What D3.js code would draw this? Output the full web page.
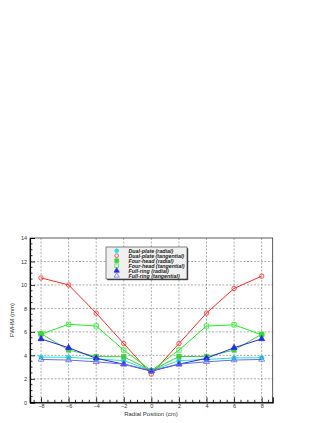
<!DOCTYPE html>
<html>
<head>
<meta charset="utf-8">
<script src="https://cdn.jsdelivr.net/npm/d3@7"></script>
<style>
  body { margin: 0; background: #fff; }
  svg { display: block; }
  text { font-family: "Liberation Sans", Arial, sans-serif; }
</style>
</head>
<body>
<div id="chart"></div>
<script>
var positions = [-8, -6, -4, -2, 0, 2, 4, 6, 8];

var dualPlateRadial = [3.85, 3.83, 3.7, 3.55, 2.7, 3.55, 3.65, 3.78, 3.8];
var dualPlateTangential = [10.6, 10.0, 7.6, 5.0, 2.4, 5.0, 7.6, 9.7, 10.75];
var fourHeadRadial = [5.85, 4.45, 3.9, 3.88, 2.7, 3.9, 3.9, 4.45, 5.8];
var fourHeadTangential = [5.8, 6.65, 6.5, 4.45, 2.7, 4.45, 6.5, 6.6, 5.75];
var fullRingRadial = [5.4, 4.65, 3.75, 3.25, 2.65, 3.25, 3.75, 4.65, 5.4];
var fullRingTangential = [3.65, 3.6, 3.45, 3.25, 2.7, 3.25, 3.45, 3.6, 3.65];

var seriesNames = [
  "Dual-plate (radial)", "Dual-plate (tangential)",
  "Four-head (radial)", "Four-head (tangential)",
  "Full-ring (radial)", "Full-ring (tangential)"
];
var xTicks = [-8, -6, -4, -2, 0, 2, 4, 6, 8];
var yTicks = [0, 2, 4, 6, 8, 10, 12, 14];

// draw order: bottom-most first, as in the ROOT canvas
var series = [
  { name: seriesNames[0], values: dualPlateRadial, color: "#22dede", shape: "circle", filled: true },
  { name: seriesNames[1], values: dualPlateTangential, color: "#ff2a2a", shape: "circle", filled: false },
  { name: seriesNames[2], values: fourHeadRadial, color: "#44cc44", shape: "square", filled: true },
  { name: seriesNames[3], values: fourHeadTangential, color: "#22ee22", shape: "square", filled: false },
  { name: seriesNames[4], values: fullRingRadial, color: "#2828e8", shape: "triangle", filled: true },
  { name: seriesNames[5], values: fullRingTangential, color: "#6a6ae6", shape: "triangle", filled: false }
];

var width = 327, height = 423;
var svg = d3.select("#chart").append("svg")
  .attr("width", width).attr("height", height);

var x = d3.scaleLinear().domain([-8.8, 8.8]).range([30, 272.7]);
var y = d3.scaleLinear().domain([0, 14]).range([402.3, 238]);

var frameL = x.range()[0], frameR = x.range()[1];
var frameT = y.range()[1], frameB = y.range()[0];

// grid
var grid = svg.append("g");
grid.selectAll("line.gx").data(xTicks).enter().append("line")
  .attr("x1", function(d) { return x(d); }).attr("x2", function(d) { return x(d); })
  .attr("y1", frameT).attr("y2", frameB)
  .attr("stroke", "#777").attr("stroke-width", 0.6).attr("stroke-dasharray", "2,1.5");
grid.selectAll("line.gy").data(yTicks.slice(1, -1)).enter().append("line")
  .attr("x1", frameL).attr("x2", frameR)
  .attr("y1", function(d) { return y(d); }).attr("y2", function(d) { return y(d); })
  .attr("stroke", "#777").attr("stroke-width", 0.6).attr("stroke-dasharray", "2,1.5");

// frame
svg.append("rect").attr("x", frameL).attr("y", frameT)
  .attr("width", frameR - frameL).attr("height", frameB - frameT)
  .attr("fill", "none").attr("stroke", "#333").attr("stroke-width", 0.8);

// axes with ROOT-style inward ticks
var xMinor = d3.range(-8.5, 8.6, 0.5).filter(function(d) { return d % 2 !== 0; });
var yMinor = d3.range(0.5, 14, 0.5).filter(function(d) { return d % 2 !== 0; });

var xAxis = svg.append("g").attr("transform", "translate(0," + frameB + ")")
  .call(d3.axisBottom(x).tickValues(xTicks).tickSize(-5).tickPadding(2).tickFormat(d3.format("d")));
xAxis.selectAll("line.minor").data(xMinor).enter().append("line")
  .attr("x1", function(d) { return x(d); }).attr("x2", function(d) { return x(d); })
  .attr("y1", 0).attr("y2", -2.5).attr("stroke", "#000").attr("stroke-width", 0.8);

var yAxis = svg.append("g").attr("transform", "translate(" + frameL + ",0)")
  .call(d3.axisLeft(y).tickValues(yTicks).tickSize(-5).tickPadding(3).tickFormat(d3.format("d")));
yAxis.selectAll("line.minor").data(yMinor).enter().append("line")
  .attr("y1", function(d) { return y(d); }).attr("y2", function(d) { return y(d); })
  .attr("x1", 0).attr("x2", 2.5).attr("stroke", "#000").attr("stroke-width", 0.8);

[xAxis, yAxis].forEach(function(a) {
  a.select(".domain").attr("stroke", "#000").attr("stroke-width", 1.2);
  a.selectAll(".tick line").attr("stroke", "#000").attr("stroke-width", 0.8);
  a.selectAll(".tick text").attr("fill", "#333").style("font-size", "5.5px");
});

// axis titles
svg.append("text").attr("x", 151).attr("y", 415.5).attr("text-anchor", "middle")
  .style("font-size", "6px").attr("fill", "#333").text("Radial Position (cm)");
svg.append("text").attr("transform", "translate(14," + y(7) + ") rotate(-90)")
  .attr("text-anchor", "middle").style("font-size", "6px").attr("fill", "#333").text("FWHM (mm)");

function markerPath(shape, s) {
  if (shape === "circle") return d3.symbol().type(d3.symbolCircle).size(s * 9)();
  if (shape === "square") return d3.symbol().type(d3.symbolSquare).size(s * 11)();
  return d3.symbol().type(d3.symbolTriangle).size(s * 9)();
}

var line = d3.line()
  .x(function(d, i) { return x(positions[i]); })
  .y(function(d) { return y(d); });

series.forEach(function(s) {
  var g = svg.append("g");
  g.append("path").datum(s.values).attr("d", line)
    .attr("fill", "none").attr("stroke", s.color).attr("stroke-width", 1);
  g.selectAll("path.m").data(s.values).enter().append("path")
    .attr("transform", function(d, i) { return "translate(" + x(positions[i]) + "," + y(d) + ")"; })
    .attr("d", markerPath(s.shape, 1.7))
    .attr("fill", s.filled ? s.color : "none")
    .attr("stroke", s.color).attr("stroke-width", 0.8);
});

// legend
var lg = svg.append("g").attr("transform", "translate(106,247)");
lg.append("rect").attr("x", 1.2).attr("y", 1.2).attr("width", 81).attr("height", 32).attr("fill", "#444");
lg.append("rect").attr("width", 81).attr("height", 32)
  .attr("fill", "#f0f0f0").attr("stroke", "#333").attr("stroke-width", 0.6);
series.forEach(function(s, i) {
  var yy = 3.7 + i * 5;
  lg.append("path").attr("transform", "translate(10.7," + yy + ")")
    .attr("d", markerPath(s.shape, 1.3))
    .attr("fill", s.filled ? s.color : "none")
    .attr("stroke", s.color).attr("stroke-width", 0.7);
  lg.append("text").attr("x", 22.5).attr("y", yy).attr("dy", "0.35em")
    .style("font-size", "5.3px").style("font-style", "italic").style("font-weight", "bold")
    .attr("fill", "#222").text(s.name);
});
</script>
</body>
</html>
